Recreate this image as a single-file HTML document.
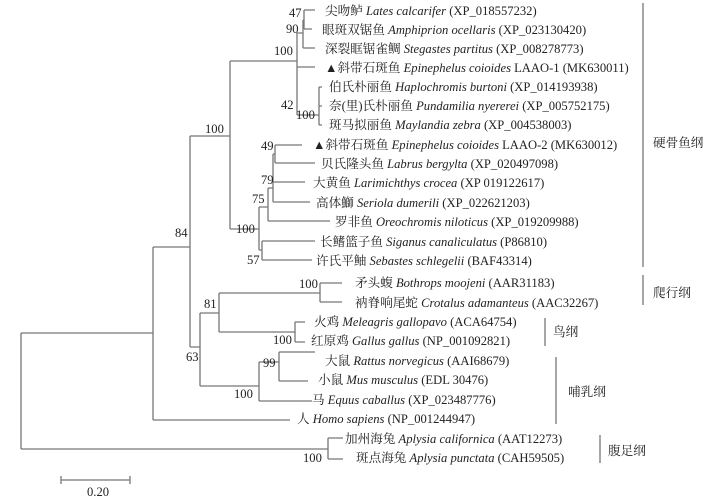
<!DOCTYPE html>
<html><head><meta charset="utf-8"><style>
html,body{margin:0;padding:0;background:#fff;}
svg{display:block;font-family:"Liberation Serif","Noto Serif CJK SC",serif;}
text{font-size:12.6px;fill:#222;}
.n{font-size:12px;}
</style></head><body>
<svg width="726" height="500" viewBox="0 0 726 500">
<g stroke="#777" stroke-width="1.3" fill="none">
<path d="M21 333V449M21 333H153M21 449H328"/>
<path d="M328 438V459M328 438H343M328 459H343"/>
<path d="M153 247V420M153 420H290M153 247H190"/>
<path d="M190 136V347M190 136H230M190 347H200"/>
<path d="M230 61V229M230 61H297M230 229H259"/>
<path d="M297 33V115M303 20V48M304 10V29"/>
<path d="M297 33H303M303 20H304M304 10H315M304 29H312M303 48H315"/>
<path d="M297 67H315M297 115H319M319 87V125M319 87H322M319 106H322M319 125H322"/>
<path d="M259 207V250M259 207H268M259 250H262M262 241V260M262 241H315M262 260H312"/>
<path d="M268 188V221M268 221H330M268 188H273M273 154V202M273 202H310M273 182H305M273 154H275M275 145V163M275 145H302M275 163H315"/>
<path d="M200 313V386M200 313H219M219 293V332M219 293H320M320 283V302M320 283H342M320 302H342"/>
<path d="M219 332H295M295 322V342M295 322H305M295 342H305"/>
<path d="M200 386H259M259 362V401M259 362H279M259 401H312M279 352V381M279 352H315M279 381H308"/>
<path d="M643 3V267M643 275V305M545 318V346M556 357V424M600 435V463"/>
<path d="M61 480H130M61 476V484M130 476V484"/>
</g>
<g class="n">
<text x="289" y="17">47</text>
<text x="286" y="33">90</text>
<text x="274" y="55">100</text>
<text x="281" y="109">42</text>
<text x="296" y="119">100</text>
<text x="205" y="133">100</text>
<text x="261" y="150">49</text>
<text x="261" y="184">79</text>
<text x="252" y="203">75</text>
<text x="236" y="233">100</text>
<text x="175" y="237">84</text>
<text x="247" y="264">57</text>
<text x="299" y="288">100</text>
<text x="204" y="308">81</text>
<text x="273" y="344">100</text>
<text x="186" y="361">63</text>
<text x="263" y="367">99</text>
<text x="234" y="398">100</text>
<text x="303" y="462">100</text>
<text x="87" y="496">0.20</text>
</g>
<g>
<text x="325" y="15">尖吻鲈 <tspan font-style="italic">Lates calcarifer</tspan> (XP_018557232)</text>
<text x="322" y="34">眼斑双锯鱼 <tspan font-style="italic">Amphiprion ocellaris</tspan> (XP_023130420)</text>
<text x="325" y="53">深裂眶锯雀鲷 <tspan font-style="italic">Stegastes partitus</tspan> (XP_008278773)</text>
<text x="325" y="72">▲斜带石斑鱼 <tspan font-style="italic">Epinephelus coioides</tspan> LAAO-1 (MK630011)</text>
<text x="329" y="91">伯氏朴丽鱼 <tspan font-style="italic">Haplochromis burtoni</tspan> (XP_014193938)</text>
<text x="329" y="110">奈(里)氏朴丽鱼 <tspan font-style="italic">Pundamilia nyererei</tspan> (XP_005752175)</text>
<text x="329" y="129">斑马拟丽鱼 <tspan font-style="italic">Maylandia zebra</tspan> (XP_004538003)</text>
<text x="313" y="149">▲斜带石斑鱼 <tspan font-style="italic">Epinephelus coioides</tspan> LAAO-2 (MK630012)</text>
<text x="321" y="168">贝氏隆头鱼 <tspan font-style="italic">Labrus bergylta</tspan> (XP_020497098)</text>
<text x="313" y="187">大黄鱼 <tspan font-style="italic">Larimichthys crocea</tspan> (XP 019122617)</text>
<text x="316" y="207">高体鰤 <tspan font-style="italic">Seriola dumerili</tspan> (XP_022621203)</text>
<text x="335" y="226">罗非鱼 <tspan font-style="italic">Oreochromis niloticus</tspan> (XP_019209988)</text>
<text x="320" y="246">长鳍篮子鱼 <tspan font-style="italic">Siganus canaliculatus</tspan> (P86810)</text>
<text x="316" y="265">许氏平鲉 <tspan font-style="italic">Sebastes schlegelii</tspan> (BAF43314)</text>
<text x="355" y="287">矛头蝮 <tspan font-style="italic">Bothrops moojeni</tspan> (AAR31183)</text>
<text x="355" y="307">衲脊响尾蛇 <tspan font-style="italic">Crotalus adamanteus</tspan> (AAC32267)</text>
<text x="314" y="326">火鸡 <tspan font-style="italic">Meleagris gallopavo</tspan> (ACA64754)</text>
<text x="311" y="345">红原鸡 <tspan font-style="italic">Gallus gallus</tspan> (NP_001092821)</text>
<text x="325" y="365">大鼠 <tspan font-style="italic">Rattus norvegicus</tspan> (AAI68679)</text>
<text x="318" y="384">小鼠 <tspan font-style="italic">Mus musculus</tspan> (EDL 30476)</text>
<text x="312" y="404">马 <tspan font-style="italic">Equus caballus</tspan> (XP_023487776)</text>
<text x="297" y="423">人 <tspan font-style="italic">Homo sapiens</tspan> (NP_001244947)</text>
<text x="345" y="443">加州海兔 <tspan font-style="italic">Aplysia californica</tspan> (AAT12273)</text>
<text x="356" y="462">斑点海兔 <tspan font-style="italic">Aplysia punctata</tspan> (CAH59505)</text>
<text x="653" y="147">硬骨鱼纲</text>
<text x="653" y="297">爬行纲</text>
<text x="553" y="336">鸟纲</text>
<text x="568" y="396">哺乳纲</text>
<text x="608" y="455">腹足纲</text>
</g>
</svg>
</body></html>
